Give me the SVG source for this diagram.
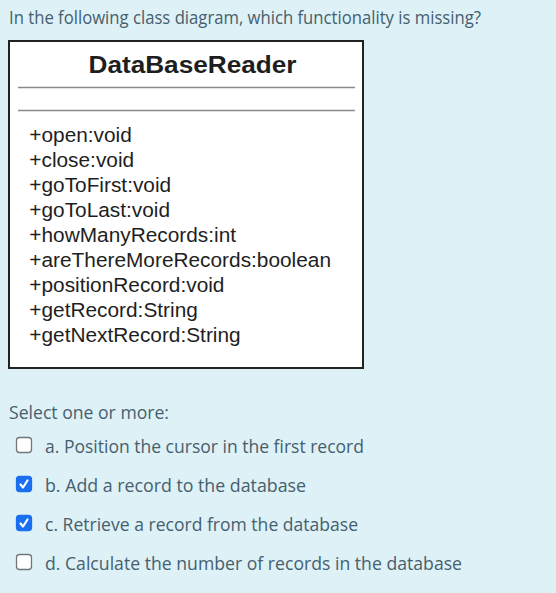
<svg xmlns="http://www.w3.org/2000/svg" width="556" height="593" viewBox="0 0 556 593">
<style>
.q{font-family:"Open Sans","Noto Sans",sans-serif;font-size:18px;fill:#46606e}
.m{font-family:"Liberation Sans",Arial,sans-serif;font-size:19.3px;fill:#1e1e1e}
.h{font-family:"Liberation Sans",Arial,sans-serif;font-size:23.5px;font-weight:bold;fill:#1e1e1e}
.cb{fill:#fff;stroke:#70787e;stroke-width:1.3}
.cbon{fill:#1a6ff0;stroke:#1a6ff0;stroke-width:1.3}
.tick{fill:none;stroke:#fff;stroke-width:2.2;stroke-linecap:round;stroke-linejoin:round}
</style>
<rect x="0" y="0" width="556" height="593" fill="#def1f7"/>
<text class="q" x="9" y="24" textLength="472" lengthAdjust="spacingAndGlyphs">In the following class diagram, which functionality is missing?</text>
<g id="DataBaseReader">
<rect x="9" y="41" width="354" height="327" fill="#fff" stroke="#222" stroke-width="2"/>
<line x1="18" y1="87.5" x2="355" y2="87.5" stroke="#8a8a8a" stroke-width="1.6"/>
<line x1="18" y1="110.5" x2="355" y2="110.5" stroke="#8a8a8a" stroke-width="1.6"/>
<text class="h" x="192.5" y="72.5" text-anchor="middle" textLength="208" lengthAdjust="spacingAndGlyphs">DataBaseReader</text>
<g transform="translate(29.3,0) scale(1.08,1)">
<text class="m" x="0" y="141.7">+open:void</text>
<text class="m" x="0" y="166.7">+close:void</text>
<text class="m" x="0" y="191.7">+goToFirst:void</text>
<text class="m" x="0" y="216.7">+goToLast:void</text>
<text class="m" x="0" y="241.7">+howManyRecords:int</text>
<text class="m" x="0" y="266.7">+areThereMoreRecords:boolean</text>
<text class="m" x="0" y="291.7">+positionRecord:void</text>
<text class="m" x="0" y="316.7">+getRecord:String</text>
<text class="m" x="0" y="341.7">+getNextRecord:String</text>
</g>
</g>
<text class="q" x="9" y="419" textLength="160" lengthAdjust="spacingAndGlyphs">Select one or more:</text>
<g id="option-a">
<rect class="cb" x="16.5" y="437.5" width="15" height="15" rx="3"/>
<text class="q" x="45" y="452.5" textLength="319" lengthAdjust="spacingAndGlyphs">a. Position the cursor in the first record</text>
</g>
<g id="option-b">
<rect class="cbon" x="16.5" y="476.5" width="15" height="15" rx="3"/>
<path class="tick" d="M20.5 484.5 L23 487.5 L27.5 480.5"/>
<text class="q" x="45" y="491.5" textLength="261" lengthAdjust="spacingAndGlyphs">b. Add a record to the database</text>
</g>
<g id="option-c">
<rect class="cbon" x="16.5" y="515.5" width="15" height="15" rx="3"/>
<path class="tick" d="M20.5 523.5 L23 526.5 L27.5 519.5"/>
<text class="q" x="45" y="530.5" textLength="313" lengthAdjust="spacingAndGlyphs">c. Retrieve a record from the database</text>
</g>
<g id="option-d">
<rect class="cb" x="16.5" y="554.5" width="15" height="15" rx="3"/>
<text class="q" x="45" y="569.5" textLength="417" lengthAdjust="spacingAndGlyphs">d. Calculate the number of records in the database</text>
</g>
</svg>
